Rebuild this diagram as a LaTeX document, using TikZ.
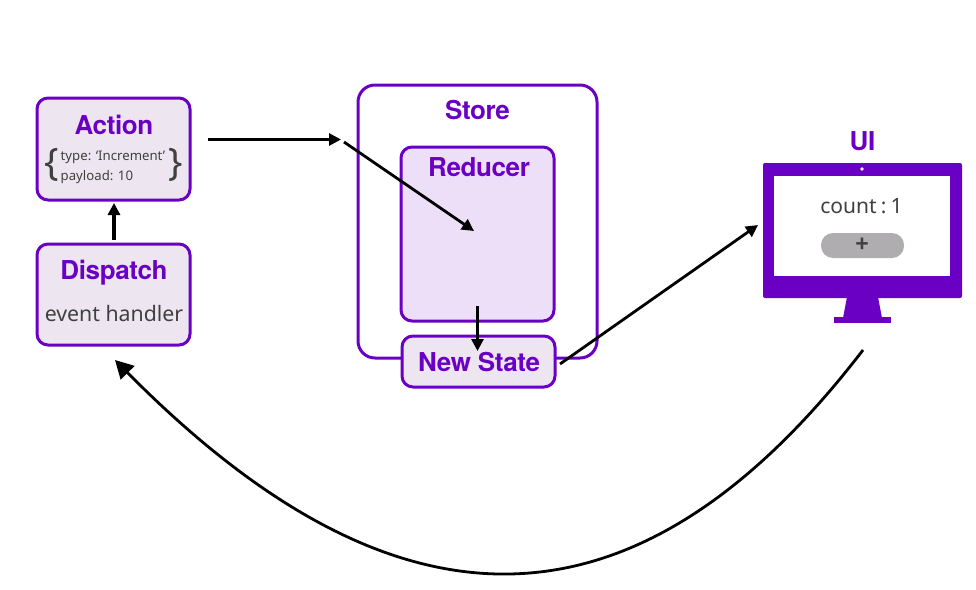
\documentclass[tikz,border=0pt]{standalone}
\usepackage{fontspec}
\setmainfont{Noto Sans}
\newfontfamily\headfont[LetterSpace=-1.5]{TeX Gyre Heros}
\newfontfamily\plusfont{Liberation Sans}
\definecolor{purp}{HTML}{6A00C4}
\definecolor{txt}{HTML}{404040}
\definecolor{boxfill}{HTML}{EDE6F0}
\definecolor{redfill}{HTML}{EEDFF8}
\definecolor{btnfill}{HTML}{B0ADB0}
\usetikzlibrary{arrows.meta}
\tikzset{
  x=1pt,y=-1pt,
  panel/.style={draw=purp,line width=3pt,rounded corners=11pt,fill=boxfill},
  headtxt/.style={text=purp,font=\headfont\fontsize{26}{26}\selectfont\bfseries,inner sep=0pt},
  bodytxt/.style={text=txt,inner sep=0pt},
  conn/.style={draw=black,line width=2.8pt,-{Triangle[length=12pt,width=12pt]}},
}
\begin{document}
\begin{tikzpicture}
\useasboundingbox (0,0) rectangle (976,589);
% Store
\node[panel,fill=white,rounded corners=17pt,minimum width=239pt,minimum height=273pt,inner sep=0pt] (store) at (477.5,221.5) {};
\node[headtxt] (storelab) at (477.5,110) {Store};
% Reducer
\node[panel,fill=redfill,minimum width=153pt,minimum height=174pt,inner sep=0pt] (reducer) at (477.5,234) {};
\node[headtxt] (reducerlab) at (479,167) {Reducer};
% New State
\node[panel,minimum width=153pt,minimum height=51pt,inner sep=0pt] (newstate) at (478.5,361.5) {};
\node[headtxt] (newstatelab) at (479,362) {New State};
% Action
\node[panel,minimum width=153pt,minimum height=102pt,inner sep=0pt] (action) at (113.5,149) {};
\node[headtxt] (actionlab) at (114,125) {Action};
\node[bodytxt,font=\fontsize{13.2}{20}\selectfont,align=left,anchor=west] (actionbody) at (60.5,167.5) {type: ‘Increment’\\payload: 10};
\node[bodytxt,font=\fontsize{38}{38}\selectfont] (bl) at (52,165) {\{};
\node[bodytxt,font=\fontsize{38}{38}\selectfont] (br) at (176,165) {\}};
% Dispatch
\node[panel,minimum width=153pt,minimum height=101pt,inner sep=0pt] (dispatch) at (113.5,294.5) {};
\node[headtxt] (dispatchlab) at (114,273) {Dispatch};
\node[bodytxt,font=\fontsize{21.3}{21.3}\selectfont] (handler) at (114,313.5) {event handler};
% UI monitor
\node[headtxt] (uilab) at (862.5,141) {UI};
\fill[purp,rounded corners=2pt] (763,163) rectangle (962,298);
\fill[purp] (847,297) -- (878,297) -- (882,318) -- (843,318) -- cycle;
\fill[purp] (834,317) rectangle (891,323);
\fill[white] (774,176) rectangle (950,276);
\fill[white] (862,169) circle (1.8pt);
\node[bodytxt,font=\fontsize{21}{21}\selectfont] (count) at (861.5,206.5) {count\hspace{0.2em}:\hspace{0.2em}1};
\node[draw=none,fill=btnfill,rounded corners=12pt,minimum width=83pt,minimum height=25pt,inner sep=0pt] (btn) at (862.5,245.5) {};
\node[bodytxt,font=\plusfont\fontsize{23}{23}\selectfont\bfseries] (plus) at (862,245) {+};
% Connectors
\coordinate (a1) at (208,139.5);
\coordinate (a2) at (341,139.5);
\coordinate (b1) at (344,142);
\coordinate (b2) at (474,231);
\coordinate (c1) at (477.5,306);
\coordinate (c2) at (477.5,351);
\coordinate (d1) at (560,364);
\coordinate (d2) at (758,225);
\coordinate (e1) at (114,240);
\coordinate (e2) at (114,203);
\coordinate (f1) at (863,350);
\coordinate (f2) at (115,360);
\draw[conn] (a1) -- (a2);
\draw[conn] (b1) -- (b2);
\draw[conn] (c1) -- (c2);
\draw[conn] (d1) -- (d2);
\draw[conn,line width=3.2pt] (e1) -- (e2);
\draw[conn,-{Triangle[length=18pt,width=19pt]}] (f1) .. controls (631,652) and (390,638) .. (f2);
\end{tikzpicture}
\end{document}
